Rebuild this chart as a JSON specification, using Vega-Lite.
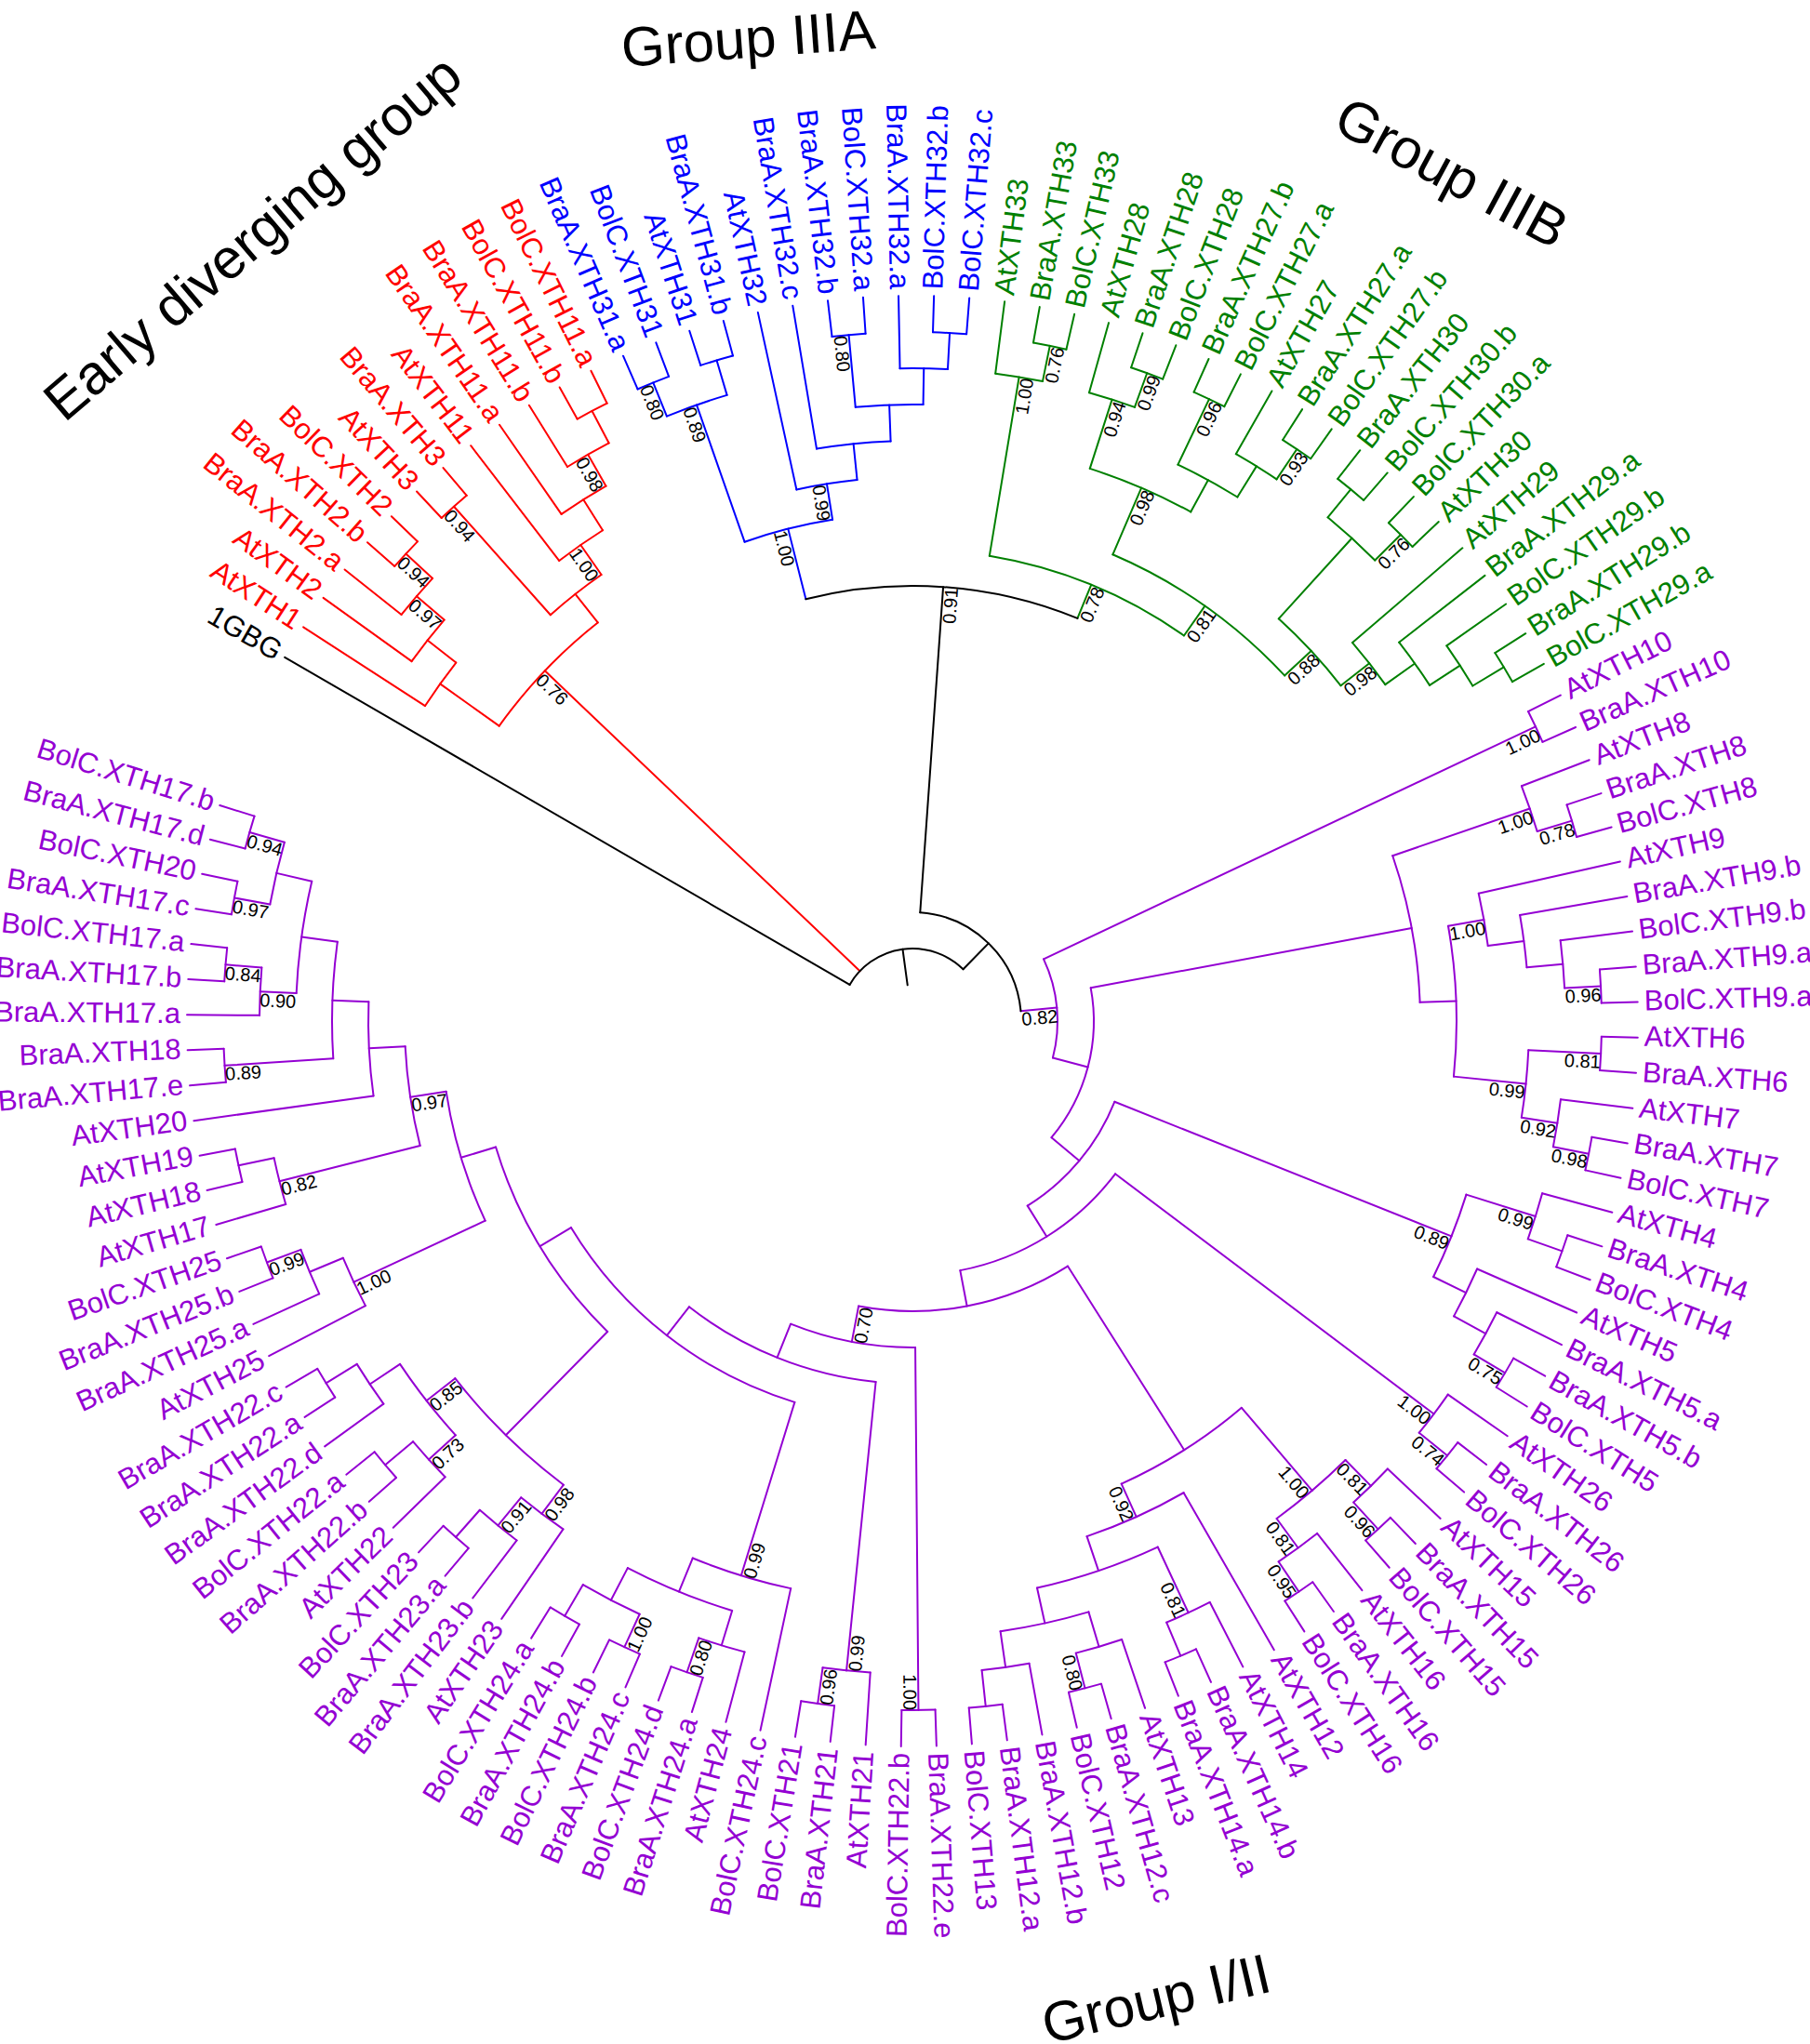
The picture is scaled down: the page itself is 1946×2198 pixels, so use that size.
{
"$schema":"https://vega.github.io/schema/vega-lite/v6.json",
"width":1930,"height":2196,
"autosize":{"type":"none"},
"padding":{"left":16,"top":0,"right":0,"bottom":2},
"background":"white",
"config":{"view":{"stroke":null},"text":{"font":"Liberation Sans"}},
"data":{"values":[
{"n":"1GBG","p":0,"h":0,"hp":18,"c":"k"},
{"n":"AtXTH1","p":1,"h":0,"hp":4,"c":"r"},
{"n":"AtXTH2","p":2,"h":0,"hp":3,"c":"r"},
{"n":"BraA.XTH2.a","p":3,"h":0,"hp":2,"c":"r"},
{"n":"BraA.XTH2.b","p":4,"h":0,"hp":1,"c":"r"},
{"n":"BolC.XTH2","p":5,"h":0,"hp":1,"c":"r"},
{"n":"AtXTH3","p":6,"h":0,"hp":1,"c":"r"},
{"n":"BraA.XTH3","p":7,"h":0,"hp":1,"c":"r"},
{"n":"AtXTH11","p":8,"h":0,"hp":4,"c":"r"},
{"n":"BraA.XTH11.a","p":9,"h":0,"hp":3,"c":"r"},
{"n":"BraA.XTH11.b","p":10,"h":0,"hp":2,"c":"r"},
{"n":"BolC.XTH11.b","p":11,"h":0,"hp":1,"c":"r"},
{"n":"BolC.XTH11.a","p":12,"h":0,"hp":1,"c":"r"},
{"n":"BraA.XTH31.a","p":13,"h":0,"hp":1,"c":"b"},
{"n":"BolC.XTH31","p":14,"h":0,"hp":1,"c":"b"},
{"n":"AtXTH31","p":15,"h":0,"hp":1,"c":"b"},
{"n":"BraA.XTH31.b","p":16,"h":0,"hp":1,"c":"b"},
{"n":"AtXTH32","p":17,"h":0,"hp":5,"c":"b"},
{"n":"BraA.XTH32.c","p":18,"h":0,"hp":4,"c":"b"},
{"n":"BraA.XTH32.b","p":19,"h":0,"hp":1,"c":"b"},
{"n":"BolC.XTH32.a","p":20,"h":0,"hp":1,"c":"b"},
{"n":"BraA.XTH32.a","p":21,"h":0,"hp":2,"c":"b"},
{"n":"BolC.XTH32.b","p":22,"h":0,"hp":1,"c":"b"},
{"n":"BolC.XTH32.c","p":23,"h":0,"hp":1,"c":"b"},
{"n":"AtXTH33","p":24,"h":0,"hp":2,"c":"g"},
{"n":"BraA.XTH33","p":25,"h":0,"hp":1,"c":"g"},
{"n":"BolC.XTH33","p":26,"h":0,"hp":1,"c":"g"},
{"n":"AtXTH28","p":27,"h":0,"hp":2,"c":"g"},
{"n":"BraA.XTH28","p":28,"h":0,"hp":1,"c":"g"},
{"n":"BolC.XTH28","p":29,"h":0,"hp":1,"c":"g"},
{"n":"BraA.XTH27.b","p":30,"h":0,"hp":1,"c":"g"},
{"n":"BolC.XTH27.a","p":31,"h":0,"hp":1,"c":"g"},
{"n":"AtXTH27","p":32,"h":0,"hp":2,"c":"g"},
{"n":"BraA.XTH27.a","p":33,"h":0,"hp":1,"c":"g"},
{"n":"BolC.XTH27.b","p":34,"h":0,"hp":1,"c":"g"},
{"n":"BraA.XTH30","p":35,"h":0,"hp":1,"c":"g"},
{"n":"BolC.XTH30.b","p":36,"h":0,"hp":1,"c":"g"},
{"n":"BolC.XTH30.a","p":37,"h":0,"hp":1,"c":"g"},
{"n":"AtXTH30","p":38,"h":0,"hp":1,"c":"g"},
{"n":"AtXTH29","p":39,"h":0,"hp":4,"c":"g"},
{"n":"BraA.XTH29.a","p":40,"h":0,"hp":3,"c":"g"},
{"n":"BolC.XTH29.b","p":41,"h":0,"hp":2,"c":"g"},
{"n":"BraA.XTH29.b","p":42,"h":0,"hp":1,"c":"g"},
{"n":"BolC.XTH29.a","p":43,"h":0,"hp":1,"c":"g"},
{"n":"AtXTH10","p":44,"h":0,"hp":1,"c":"p"},
{"n":"BraA.XTH10","p":45,"h":0,"hp":1,"c":"p"},
{"n":"AtXTH8","p":46,"h":0,"hp":2,"c":"p"},
{"n":"BraA.XTH8","p":47,"h":0,"hp":1,"c":"p"},
{"n":"BolC.XTH8","p":48,"h":0,"hp":1,"c":"p"},
{"n":"AtXTH9","p":49,"h":0,"hp":4,"c":"p"},
{"n":"BraA.XTH9.b","p":50,"h":0,"hp":3,"c":"p"},
{"n":"BolC.XTH9.b","p":51,"h":0,"hp":2,"c":"p"},
{"n":"BraA.XTH9.a","p":52,"h":0,"hp":1,"c":"p"},
{"n":"BolC.XTH9.a","p":53,"h":0,"hp":1,"c":"p"},
{"n":"AtXTH6","p":54,"h":0,"hp":1,"c":"p"},
{"n":"BraA.XTH6","p":55,"h":0,"hp":1,"c":"p"},
{"n":"AtXTH7","p":56,"h":0,"hp":2,"c":"p"},
{"n":"BraA.XTH7","p":57,"h":0,"hp":1,"c":"p"},
{"n":"BolC.XTH7","p":58,"h":0,"hp":1,"c":"p"},
{"n":"AtXTH4","p":59,"h":0,"hp":2,"c":"p"},
{"n":"BraA.XTH4","p":60,"h":0,"hp":1,"c":"p"},
{"n":"BolC.XTH4","p":61,"h":0,"hp":1,"c":"p"},
{"n":"AtXTH5","p":62,"h":0,"hp":3,"c":"p"},
{"n":"BraA.XTH5.a","p":63,"h":0,"hp":2,"c":"p"},
{"n":"BraA.XTH5.b","p":64,"h":0,"hp":1,"c":"p"},
{"n":"BolC.XTH5","p":65,"h":0,"hp":1,"c":"p"},
{"n":"AtXTH26","p":66,"h":0,"hp":2,"c":"p"},
{"n":"BraA.XTH26","p":67,"h":0,"hp":1,"c":"p"},
{"n":"BolC.XTH26","p":68,"h":0,"hp":1,"c":"p"},
{"n":"AtXTH15","p":69,"h":0,"hp":2,"c":"p"},
{"n":"BraA.XTH15","p":70,"h":0,"hp":1,"c":"p"},
{"n":"BolC.XTH15","p":71,"h":0,"hp":1,"c":"p"},
{"n":"AtXTH16","p":72,"h":0,"hp":2,"c":"p"},
{"n":"BraA.XTH16","p":73,"h":0,"hp":1,"c":"p"},
{"n":"BolC.XTH16","p":74,"h":0,"hp":1,"c":"p"},
{"n":"AtXTH12","p":75,"h":0,"hp":5,"c":"p"},
{"n":"AtXTH14","p":76,"h":0,"hp":2,"c":"p"},
{"n":"BraA.XTH14.b","p":77,"h":0,"hp":1,"c":"p"},
{"n":"BraA.XTH14.a","p":78,"h":0,"hp":1,"c":"p"},
{"n":"AtXTH13","p":79,"h":0,"hp":2,"c":"p"},
{"n":"BraA.XTH12.c","p":80,"h":0,"hp":1,"c":"p"},
{"n":"BolC.XTH12","p":81,"h":0,"hp":1,"c":"p"},
{"n":"BraA.XTH12.b","p":82,"h":0,"hp":2,"c":"p"},
{"n":"BraA.XTH12.a","p":83,"h":0,"hp":1,"c":"p"},
{"n":"BolC.XTH13","p":84,"h":0,"hp":1,"c":"p"},
{"n":"BraA.XTH22.e","p":85,"h":0,"hp":1,"c":"p"},
{"n":"BolC.XTH22.b","p":86,"h":0,"hp":1,"c":"p"},
{"n":"AtXTH21","p":87,"h":0,"hp":2,"c":"p"},
{"n":"BraA.XTH21","p":88,"h":0,"hp":1,"c":"p"},
{"n":"BolC.XTH21","p":89,"h":0,"hp":1,"c":"p"},
{"n":"BolC.XTH24.c","p":90,"h":0,"hp":4,"c":"p"},
{"n":"AtXTH24","p":91,"h":0,"hp":2,"c":"p"},
{"n":"BraA.XTH24.a","p":92,"h":0,"hp":1,"c":"p"},
{"n":"BolC.XTH24.d","p":93,"h":0,"hp":1,"c":"p"},
{"n":"BraA.XTH24.c","p":94,"h":0,"hp":1,"c":"p"},
{"n":"BolC.XTH24.b","p":95,"h":0,"hp":1,"c":"p"},
{"n":"BraA.XTH24.b","p":96,"h":0,"hp":1,"c":"p"},
{"n":"BolC.XTH24.a","p":97,"h":0,"hp":1,"c":"p"},
{"n":"AtXTH23","p":98,"h":0,"hp":3,"c":"p"},
{"n":"BraA.XTH23.b","p":99,"h":0,"hp":2,"c":"p"},
{"n":"BraA.XTH23.a","p":100,"h":0,"hp":1,"c":"p"},
{"n":"BolC.XTH23","p":101,"h":0,"hp":1,"c":"p"},
{"n":"AtXTH22","p":102,"h":0,"hp":2,"c":"p"},
{"n":"BraA.XTH22.b","p":103,"h":0,"hp":1,"c":"p"},
{"n":"BolC.XTH22.a","p":104,"h":0,"hp":1,"c":"p"},
{"n":"BraA.XTH22.d","p":105,"h":0,"hp":2,"c":"p"},
{"n":"BraA.XTH22.a","p":106,"h":0,"hp":1,"c":"p"},
{"n":"BraA.XTH22.c","p":107,"h":0,"hp":1,"c":"p"},
{"n":"AtXTH25","p":108,"h":0,"hp":3,"c":"p"},
{"n":"BraA.XTH25.a","p":109,"h":0,"hp":2,"c":"p"},
{"n":"BraA.XTH25.b","p":110,"h":0,"hp":1,"c":"p"},
{"n":"BolC.XTH25","p":111,"h":0,"hp":1,"c":"p"},
{"n":"AtXTH17","p":112,"h":0,"hp":2,"c":"p"},
{"n":"AtXTH18","p":113,"h":0,"hp":1,"c":"p"},
{"n":"AtXTH19","p":114,"h":0,"hp":1,"c":"p"},
{"n":"AtXTH20","p":115,"h":0,"hp":5,"c":"p"},
{"n":"BraA.XTH17.e","p":116,"h":0,"hp":1,"c":"p"},
{"n":"BraA.XTH18","p":117,"h":0,"hp":1,"c":"p"},
{"n":"BraA.XTH17.a","p":118,"h":0,"hp":2,"c":"p"},
{"n":"BraA.XTH17.b","p":119,"h":0,"hp":1,"c":"p"},
{"n":"BolC.XTH17.a","p":120,"h":0,"hp":1,"c":"p"},
{"n":"BraA.XTH17.c","p":121,"h":0,"hp":1,"c":"p"},
{"n":"BolC.XTH20","p":122,"h":0,"hp":1,"c":"p"},
{"n":"BraA.XTH17.d","p":123,"h":0,"hp":1,"c":"p"},
{"n":"BolC.XTH17.b","p":124,"h":0,"hp":1,"c":"p"},
{"p":18.62,"h":18,"hp":19,"c":"k","a0":0,"a1":37.24},
{"p":4.83,"h":6,"hp":18,"c":"r","a0":1.94,"a1":7.72,"s":"0.76"},
{"p":1.94,"h":4,"hp":6,"c":"r","a0":1,"a1":2.875},
{"p":2.875,"h":3,"hp":4,"c":"r","a0":2,"a1":3.75},
{"p":3.75,"h":2,"hp":3,"c":"r","a0":3,"a1":4.5,"s":"0.97"},
{"p":4.5,"h":1,"hp":2,"c":"r","a0":4,"a1":5,"s":"0.94"},
{"p":7.72,"h":5,"hp":6,"c":"r","a0":6.5,"a1":8.94},
{"p":6.5,"h":1,"hp":5,"c":"r","a0":6,"a1":7,"s":"0.94"},
{"p":8.94,"h":4,"hp":5,"c":"r","a0":8,"a1":9.875,"s":"1.00"},
{"p":9.875,"h":3,"hp":4,"c":"r","a0":9,"a1":10.75},
{"p":10.75,"h":2,"hp":3,"c":"r","a0":10,"a1":11.5,"s":"0.98"},
{"p":11.5,"h":1,"hp":2,"c":"r","a0":11,"a1":12},
{"p":37.24,"h":17,"hp":18,"c":"k","a0":22.84,"a1":51.64},
{"p":22.84,"h":8,"hp":17,"c":"k","a0":16.33,"a1":29.35,"s":"0.91"},
{"p":16.33,"h":6,"hp":8,"c":"b","a0":14.5,"a1":18.16,"s":"1.00"},
{"p":14.5,"h":2,"hp":6,"c":"b","a0":13.5,"a1":15.5,"s":"0.89"},
{"p":13.5,"h":1,"hp":2,"c":"b","a0":13,"a1":14,"s":"0.80"},
{"p":15.5,"h":1,"hp":2,"c":"b","a0":15,"a1":16},
{"p":18.16,"h":5,"hp":6,"c":"b","a0":17,"a1":19.31,"s":"0.99"},
{"p":19.31,"h":4,"hp":5,"c":"b","a0":18,"a1":20.625},
{"p":20.625,"h":3,"hp":4,"c":"b","a0":19.5,"a1":21.75},
{"p":19.5,"h":1,"hp":3,"c":"b","a0":19,"a1":20,"s":"0.80"},
{"p":21.75,"h":2,"hp":3,"c":"b","a0":21,"a1":22.5},
{"p":22.5,"h":1,"hp":2,"c":"b","a0":22,"a1":23},
{"p":29.35,"h":7,"hp":8,"c":"g","a0":24.75,"a1":33.95,"s":"0.78"},
{"p":24.75,"h":2,"hp":7,"c":"g","a0":24,"a1":25.5,"s":"1.00"},
{"p":25.5,"h":1,"hp":2,"c":"g","a0":25,"a1":26,"s":"0.76"},
{"p":33.95,"h":6,"hp":7,"c":"g","a0":29.69,"a1":38.22,"s":"0.81"},
{"p":29.69,"h":4,"hp":6,"c":"g","a0":27.75,"a1":31.625,"s":"0.98"},
{"p":27.75,"h":2,"hp":4,"c":"g","a0":27,"a1":28.5,"s":"0.94"},
{"p":28.5,"h":1,"hp":2,"c":"g","a0":28,"a1":29,"s":"0.99"},
{"p":31.625,"h":3,"hp":4,"c":"g","a0":30.5,"a1":32.75},
{"p":30.5,"h":1,"hp":3,"c":"g","a0":30,"a1":31,"s":"0.96"},
{"p":32.75,"h":2,"hp":3,"c":"g","a0":32,"a1":33.5},
{"p":33.5,"h":1,"hp":2,"c":"g","a0":33,"a1":34,"s":"0.93"},
{"p":38.22,"h":5,"hp":6,"c":"g","a0":36.5,"a1":39.94,"s":"0.88"},
{"p":36.5,"h":2,"hp":5,"c":"g","a0":35.5,"a1":37.5},
{"p":35.5,"h":1,"hp":2,"c":"g","a0":35,"a1":36},
{"p":37.5,"h":1,"hp":2,"c":"g","a0":37,"a1":38,"s":"0.76"},
{"p":39.94,"h":4,"hp":5,"c":"g","a0":39,"a1":40.875,"s":"0.98"},
{"p":40.875,"h":3,"hp":4,"c":"g","a0":40,"a1":41.75},
{"p":41.75,"h":2,"hp":3,"c":"g","a0":41,"a1":42.5},
{"p":42.5,"h":1,"hp":2,"c":"g","a0":42,"a1":43},
{"p":51.64,"h":16,"hp":17,"c":"p","a0":44.5,"a1":58.78,"s":"0.82"},
{"p":44.5,"h":1,"hp":16,"c":"p","a0":44,"a1":45,"s":"1.00"},
{"p":58.78,"h":15,"hp":16,"c":"p","a0":49.77,"a1":67.8},
{"p":49.77,"h":6,"hp":15,"c":"p","a0":46.75,"a1":52.78},
{"p":46.75,"h":2,"hp":6,"c":"p","a0":46,"a1":47.5,"s":"1.00"},
{"p":47.5,"h":1,"hp":2,"c":"p","a0":47,"a1":48,"s":"0.78"},
{"p":52.78,"h":5,"hp":6,"c":"p","a0":49.94,"a1":55.625},
{"p":49.94,"h":4,"hp":5,"c":"p","a0":49,"a1":50.875,"s":"1.00"},
{"p":50.875,"h":3,"hp":4,"c":"p","a0":50,"a1":51.75},
{"p":51.75,"h":2,"hp":3,"c":"p","a0":51,"a1":52.5},
{"p":52.5,"h":1,"hp":2,"c":"p","a0":52,"a1":53,"s":"0.96"},
{"p":55.625,"h":3,"hp":5,"c":"p","a0":54.5,"a1":56.75,"s":"0.99"},
{"p":54.5,"h":1,"hp":3,"c":"p","a0":54,"a1":55,"s":"0.81"},
{"p":56.75,"h":2,"hp":3,"c":"p","a0":56,"a1":57.5,"s":"0.92"},
{"p":57.5,"h":1,"hp":2,"c":"p","a0":57,"a1":58,"s":"0.98"},
{"p":67.8,"h":14,"hp":15,"c":"p","a0":61.31,"a1":74.28},
{"p":61.31,"h":4,"hp":14,"c":"p","a0":59.75,"a1":62.875,"s":"0.89"},
{"p":59.75,"h":2,"hp":4,"c":"p","a0":59,"a1":60.5,"s":"0.99"},
{"p":60.5,"h":1,"hp":2,"c":"p","a0":60,"a1":61},
{"p":62.875,"h":3,"hp":4,"c":"p","a0":62,"a1":63.75},
{"p":63.75,"h":2,"hp":3,"c":"p","a0":63,"a1":64.5},
{"p":64.5,"h":1,"hp":2,"c":"p","a0":64,"a1":65,"s":"0.75"},
{"p":74.28,"h":13,"hp":14,"c":"p","a0":66.75,"a1":81.81},
{"p":66.75,"h":2,"hp":13,"c":"p","a0":66,"a1":67.5,"s":"1.00"},
{"p":67.5,"h":1,"hp":2,"c":"p","a0":67,"a1":68,"s":"0.74"},
{"p":81.81,"h":12,"hp":13,"c":"p","a0":74.125,"a1":89.5},
{"p":74.125,"h":6,"hp":12,"c":"p","a0":71.25,"a1":77.0},
{"p":71.25,"h":3,"hp":6,"c":"p","a0":69.75,"a1":72.75,"s":"1.00"},
{"p":69.75,"h":2,"hp":3,"c":"p","a0":69,"a1":70.5,"s":"0.81"},
{"p":70.5,"h":1,"hp":2,"c":"p","a0":70,"a1":71,"s":"0.96"},
{"p":72.75,"h":2,"hp":3,"c":"p","a0":72,"a1":73.5,"s":"0.81"},
{"p":73.5,"h":1,"hp":2,"c":"p","a0":73,"a1":74,"s":"0.95"},
{"p":77.0,"h":5,"hp":6,"c":"p","a0":75,"a1":79.0,"s":"0.92"},
{"p":79.0,"h":4,"hp":5,"c":"p","a0":76.75,"a1":81.25},
{"p":76.75,"h":2,"hp":4,"c":"p","a0":76,"a1":77.5,"s":"0.81"},
{"p":77.5,"h":1,"hp":2,"c":"p","a0":77,"a1":78},
{"p":81.25,"h":3,"hp":4,"c":"p","a0":79.75,"a1":82.75},
{"p":79.75,"h":2,"hp":3,"c":"p","a0":79,"a1":80.5},
{"p":80.5,"h":1,"hp":2,"c":"p","a0":80,"a1":81,"s":"0.80"},
{"p":82.75,"h":2,"hp":3,"c":"p","a0":82,"a1":83.5},
{"p":83.5,"h":1,"hp":2,"c":"p","a0":83,"a1":84},
{"p":89.5,"h":11,"hp":12,"c":"p","a0":85.5,"a1":93.5,"s":"0.70"},
{"p":85.5,"h":1,"hp":11,"c":"p","a0":85,"a1":86,"s":"1.00"},
{"p":93.5,"h":10,"hp":11,"c":"p","a0":87.75,"a1":99.25},
{"p":87.75,"h":2,"hp":10,"c":"p","a0":87,"a1":88.5,"s":"0.99"},
{"p":88.5,"h":1,"hp":2,"c":"p","a0":88,"a1":89,"s":"0.96"},
{"p":99.25,"h":9,"hp":10,"c":"p","a0":91.81,"a1":106.69},
{"p":91.81,"h":4,"hp":9,"c":"p","a0":90,"a1":93.625,"s":"0.99"},
{"p":93.625,"h":3,"hp":4,"c":"p","a0":91.75,"a1":95.5},
{"p":91.75,"h":2,"hp":3,"c":"p","a0":91,"a1":92.5},
{"p":92.5,"h":1,"hp":2,"c":"p","a0":92,"a1":93,"s":"0.80"},
{"p":95.5,"h":2,"hp":3,"c":"p","a0":94.5,"a1":96.5},
{"p":94.5,"h":1,"hp":2,"c":"p","a0":94,"a1":95,"s":"1.00"},
{"p":96.5,"h":1,"hp":2,"c":"p","a0":96,"a1":97},
{"p":106.69,"h":8,"hp":9,"c":"p","a0":101.56,"a1":111.81},
{"p":101.56,"h":4,"hp":8,"c":"p","a0":98.875,"a1":104.25},
{"p":98.875,"h":3,"hp":4,"c":"p","a0":98,"a1":99.75,"s":"0.98"},
{"p":99.75,"h":2,"hp":3,"c":"p","a0":99,"a1":100.5,"s":"0.91"},
{"p":100.5,"h":1,"hp":2,"c":"p","a0":100,"a1":101},
{"p":104.25,"h":3,"hp":4,"c":"p","a0":102.75,"a1":105.75,"s":"0.85"},
{"p":102.75,"h":2,"hp":3,"c":"p","a0":102,"a1":103.5,"s":"0.73"},
{"p":103.5,"h":1,"hp":2,"c":"p","a0":103,"a1":104},
{"p":105.75,"h":2,"hp":3,"c":"p","a0":105,"a1":106.5},
{"p":106.5,"h":1,"hp":2,"c":"p","a0":106,"a1":107},
{"p":111.81,"h":7,"hp":8,"c":"p","a0":108.875,"a1":114.75},
{"p":108.875,"h":3,"hp":7,"c":"p","a0":108,"a1":109.75,"s":"1.00"},
{"p":109.75,"h":2,"hp":3,"c":"p","a0":109,"a1":110.5},
{"p":110.5,"h":1,"hp":2,"c":"p","a0":110,"a1":111,"s":"0.99"},
{"p":114.75,"h":6,"hp":7,"c":"p","a0":112.75,"a1":116.8,"s":"0.97"},
{"p":112.75,"h":2,"hp":6,"c":"p","a0":112,"a1":113.5,"s":"0.82"},
{"p":113.5,"h":1,"hp":2,"c":"p","a0":113,"a1":114},
{"p":116.8,"h":5,"hp":6,"c":"p","a0":115,"a1":118.55},
{"p":118.55,"h":4,"hp":5,"c":"p","a0":116.5,"a1":120.625},
{"p":116.5,"h":1,"hp":4,"c":"p","a0":116,"a1":117,"s":"0.89"},
{"p":120.625,"h":3,"hp":4,"c":"p","a0":118.75,"a1":122.5},
{"p":118.75,"h":2,"hp":3,"c":"p","a0":118,"a1":119.5,"s":"0.90"},
{"p":119.5,"h":1,"hp":2,"c":"p","a0":119,"a1":120,"s":"0.84"},
{"p":122.5,"h":2,"hp":3,"c":"p","a0":121.5,"a1":123.5},
{"p":121.5,"h":1,"hp":2,"c":"p","a0":121,"a1":122,"s":"0.97"},
{"p":123.5,"h":1,"hp":2,"c":"p","a0":123,"a1":124,"s":"0.94"}
]},
"layer":[
{"mark":{"type":"arc","filled":false,"strokeWidth":2,"strokeJoin":"round"},
 "encoding":{
  "theta":{"field":"p","type":"quantitative","stack":null,"scale":{"type":"linear","domain":[0,124],"range":[-1.045451,5.014333],"zero":false,"nice":false}},
  "theta2":{"field":"p"},
  "radius":{"field":"hp","type":"quantitative","stack":null,"scale":{"type":"linear","domain":[0,20],"range":[780,0],"zero":false,"nice":false}},
  "radius2":{"field":"h"},
  "color":{"field":"c","type":"nominal","scale":{"domain":["k","r","b","g","p"],"range":["#000000","#ff0000","#0000ff","#008000","#9400d3"]},"legend":null}
 }},
{"transform":[{"filter":"datum.a0 != null"}],
 "mark":{"type":"arc","filled":false,"strokeWidth":2,"strokeJoin":"round"},
 "encoding":{
  "theta":{"field":"a0","type":"quantitative","stack":null,"scale":{"type":"linear","domain":[0,124],"range":[-1.045451,5.014333],"zero":false,"nice":false}},
  "theta2":{"field":"a1"},
  "radius":{"field":"h","type":"quantitative","stack":null,"scale":{"type":"linear","domain":[0,20],"range":[780,0],"zero":false,"nice":false}},
  "radius2":{"field":"h"},
  "color":{"field":"c","type":"nominal","scale":{"domain":["k","r","b","g","p"],"range":["#000000","#ff0000","#0000ff","#008000","#9400d3"]},"legend":null}
 }},
{"transform":[{"filter":"datum.h == 0 && datum.p > 21.39 && datum.p < 85.68"}],
 "mark":{"type":"text","align":"left","baseline":"middle","fontSize":31},
 "encoding":{
  "theta":{"field":"p","type":"quantitative","scale":{"type":"linear","domain":[0,124],"range":[-1.045451,5.014333],"zero":false,"nice":false}},
  "radius":{"datum":-0.18,"type":"quantitative","scale":{"type":"linear","domain":[0,20],"range":[780,0],"zero":false,"nice":false}},
  "angle":{"field":"p","type":"quantitative","scale":{"type":"linear","domain":[0,124],"range":[-149.9,197.3],"zero":false,"nice":false}},
  "text":{"field":"n"},
  "color":{"field":"c","type":"nominal","scale":{"domain":["k","r","b","g","p"],"range":["#000000","#ff0000","#0000ff","#008000","#9400d3"]},"legend":null}
 }},
{"transform":[{"filter":"datum.h == 0 && (datum.p < 21.39 || datum.p > 85.68)"}],
 "mark":{"type":"text","align":"right","baseline":"middle","fontSize":31},
 "encoding":{
  "theta":{"field":"p","type":"quantitative","scale":{"type":"linear","domain":[0,124],"range":[-1.045451,5.014333],"zero":false,"nice":false}},
  "radius":{"datum":-0.18,"type":"quantitative","scale":{"type":"linear","domain":[0,20],"range":[780,0],"zero":false,"nice":false}},
  "angle":{"field":"p","type":"quantitative","scale":{"type":"linear","domain":[0,124],"range":[30.1,377.3],"zero":false,"nice":false}},
  "text":{"field":"n"},
  "color":{"field":"c","type":"nominal","scale":{"domain":["k","r","b","g","p"],"range":["#000000","#ff0000","#0000ff","#008000","#9400d3"]},"legend":null}
 }},
{"transform":[{"filter":"datum.s && datum.p > 21.39 && datum.p < 85.68"}],
 "mark":{"type":"text","align":"right","baseline":"top","fontSize":20,"color":"black"},
 "encoding":{
  "theta":{"field":"p","type":"quantitative","scale":{"type":"linear","domain":[0,124],"range":[-1.045451,5.014333],"zero":false,"nice":false}},
  "radius":{"field":"h","type":"quantitative","scale":{"type":"linear","domain":[0,20],"range":[780,0],"zero":false,"nice":false}},
  "angle":{"field":"p","type":"quantitative","scale":{"type":"linear","domain":[0,124],"range":[-149.9,197.3],"zero":false,"nice":false}},
  "text":{"field":"s"}
 }},
{"transform":[{"filter":"datum.s && (datum.p < 21.39 || datum.p > 85.68)"}],
 "mark":{"type":"text","align":"left","baseline":"top","fontSize":20,"color":"black"},
 "encoding":{
  "theta":{"field":"p","type":"quantitative","scale":{"type":"linear","domain":[0,124],"range":[-1.045451,5.014333],"zero":false,"nice":false}},
  "radius":{"field":"h","type":"quantitative","scale":{"type":"linear","domain":[0,20],"range":[780,0],"zero":false,"nice":false}},
  "angle":{"field":"p","type":"quantitative","scale":{"type":"linear","domain":[0,124],"range":[30.1,377.3],"zero":false,"nice":false}},
  "text":{"field":"s"}
 }},
{"data":{"values":[{"t":"Early diverging group"}]},
 "mark":{"type":"text","align":"center","baseline":"middle","fontSize":60,"angle":319.5,"color":"black"},
 "encoding":{"theta":{"datum":7.07,"type":"quantitative"},"radius":{"datum":-8.18,"type":"quantitative"},"text":{"field":"t"}}},
{"data":{"values":[{"t":"Group IIIA"}]},
 "mark":{"type":"text","align":"center","baseline":"middle","fontSize":60,"angle":355.8,"color":"black"},
 "encoding":{"theta":{"datum":18.0,"type":"quantitative"},"radius":{"datum":-7.4,"type":"quantitative"},"text":{"field":"t"}}},
{"data":{"values":[{"t":"Group IIIB"}]},
 "mark":{"type":"text","align":"center","baseline":"middle","fontSize":60,"angle":28.4,"color":"black"},
 "encoding":{"theta":{"datum":32.98,"type":"quantitative"},"radius":{"datum":-7.65,"type":"quantitative"},"text":{"field":"t"}}},
{"data":{"values":[{"t":"Group I/II"}]},
 "mark":{"type":"text","align":"center","baseline":"middle","fontSize":60,"angle":346.8,"color":"black"},
 "encoding":{"theta":{"datum":80.68,"type":"quantitative"},"radius":{"datum":-7.85,"type":"quantitative"},"text":{"field":"t"}}}
],
"resolve":{"scale":{"angle":"independent"}}
}
